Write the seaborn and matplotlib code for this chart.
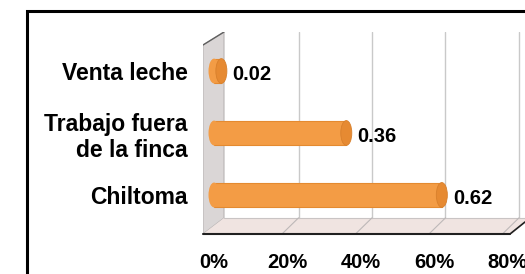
import numpy as np
import pandas as pd
import matplotlib
matplotlib.use('Agg')
import matplotlib.pyplot as plt
import matplotlib.patches as mpatches
import matplotlib.transforms as mtrans
import seaborn as sns

categories = ['Venta leche', 'Trabajo fuera\nde la finca', 'Chiltoma']
values = [0.02, 0.36, 0.62]
value_labels = ['0.02', '0.36', '0.62']
ticks = [0.0, 0.2, 0.4, 0.6, 0.8]
tick_labels = ['0%', '20%', '40%', '60%', '80%']

df = pd.DataFrame({'cat': categories, 'val': values})

sns.set_theme(style='white')
plt.rcParams['font.family'] = ['Liberation Sans', 'DejaVu Sans']
plt.rcParams['text.color'] = 'black'
plt.rcParams['xtick.color'] = 'black'
plt.rcParams['ytick.color'] = 'black'

W, H = 525, 274
fig = plt.figure(figsize=(W / 100, H / 100), dpi=100)

# axes placed in pixel terms
ax_l, ax_r, ax_t, ax_b = 203, 530, 32, 234
ax = fig.add_axes([ax_l / W, 1 - ax_b / H, (ax_r - ax_l) / W, (ax_b - ax_t) / H])

bar_col = '#F39C45'
sns.barplot(data=df, y='cat', x='val', orient='h', color=bar_col, width=0.4,
            saturation=1, edgecolor='#E48A30', linewidth=0.8, ax=ax, zorder=3)

ax.set_xlim(-0.03, 0.86)
ax.set_ylim(2.63, -0.63)

# back-wall grid lines
for t in ticks[1:]:
    ax.axvline(t + 0.03, ymin=0.08, ymax=1, color='#C9C9C9', lw=1, zorder=1)

# left wall and floor (3d look)
def px2ax(px, py):
    return ((px - ax_l) / (ax_r - ax_l), (ax_b - py) / (ax_b - ax_t))

wall = mpatches.Polygon([px2ax(203, 234), px2ax(203, 45), px2ax(224, 32),
                         px2ax(224, 218)], closed=True, transform=ax.transAxes,
                        facecolor='#DAD6D6', edgecolor='#B8B4B4', lw=0.8, zorder=0)
ax.add_patch(wall)
ax.plot(*zip(px2ax(203, 45), px2ax(224, 32)), transform=ax.transAxes,
        color='#606060', lw=1, zorder=1)
floor = mpatches.Polygon([px2ax(203, 234), px2ax(224, 218), px2ax(530, 218),
                          px2ax(512, 234)], closed=True, transform=ax.transAxes,
                         facecolor='#F0E4E1', edgecolor='none', zorder=0)
ax.add_patch(floor)
ax.plot(*zip(px2ax(224, 218), px2ax(530, 218)), transform=ax.transAxes,
        color='#C9C4C4', lw=0.8, zorder=1)
ax.plot(*zip(px2ax(203, 234), px2ax(510, 234)), transform=ax.transAxes,
        color='#202020', lw=1.5, zorder=2, clip_on=False)
ax.plot(*zip(px2ax(510, 234), px2ax(525, 222)), transform=ax.transAxes,
        color='#202020', lw=1.2, zorder=2, clip_on=False)
blend = mtrans.blended_transform_factory(ax.transData, ax.transAxes)
for t in ticks[1:]:
    ax.plot([t - 0.015, t + 0.03], [0.0, 0.08], transform=blend,
            color='#BDB8B8', lw=0.8, zorder=1)

# cylinder caps at bar ends
for i, v in enumerate(values):
    ax.add_patch(mpatches.Ellipse((v, i), 0.03, 0.4, facecolor='#E68A32',
                                  edgecolor='#D8802C', lw=0.6, zorder=4))
    ax.add_patch(mpatches.Ellipse((0, i), 0.03, 0.4, facecolor=bar_col,
                                  edgecolor='none', zorder=3))
    ax.text(v + 0.03, i + 0.05, value_labels[i], ha='left', va='center',
            fontsize=14.5, fontweight='bold', color='black', zorder=5)

ax.set_xticks(ticks)
ax.set_xticklabels(tick_labels, fontsize=14.5, fontweight='bold')
ax.tick_params(axis='x', length=0, pad=14)
ax.tick_params(axis='y', length=0, pad=11, labelsize=16.5)
for lab in ax.get_yticklabels():
    lab.set_fontweight('bold')
    lab.set_multialignment('right')
ax.set_xlabel('')
ax.set_ylabel('')
for s in ax.spines.values():
    s.set_visible(False)
ax.set_facecolor('none')

# outer border
fig.patches.append(mpatches.Rectangle((27 / W, -0.2), 1.2, 1 - 11 / H + 0.2,
                                      transform=fig.transFigure, fill=False,
                                      edgecolor='black', lw=2.2))

fig.savefig('out.png', dpi=100)
